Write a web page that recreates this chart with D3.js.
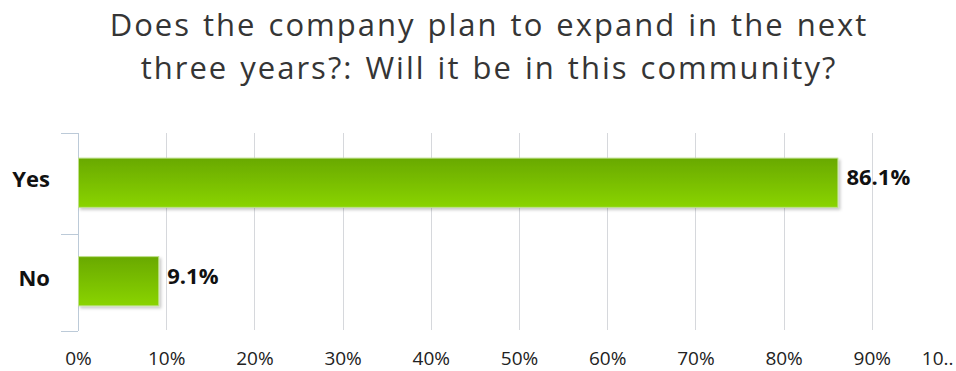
<!DOCTYPE html>
<html><head><meta charset="utf-8">
<script src="https://cdn.jsdelivr.net/npm/d3@7"></script>
<style>body{margin:0;background:#fff;}svg{display:block;}</style>
</head><body>
<svg id="c" width="956" height="371"></svg>
<script>
const titleLines = ["Does the company plan to expand in the next", "three years?: Will it be in this community?"];
const categories = ["Yes", "No"];
const values = [86.1, 9.1];
const tickValues = [0,10,20,30,40,50,60,70,80,90,100];
const tickLabels = ["0%","10%","20%","30%","40%","50%","60%","70%","80%","90%","10.."];

const FONT = "'Open Sans', 'DejaVu Sans', sans-serif";
const svg = d3.select("#c");
const defs = svg.append("defs");
const g = defs.append("linearGradient").attr("id","bar").attr("x1",0).attr("y1",0).attr("x2",0).attr("y2",1);
g.append("stop").attr("offset","0%").attr("stop-color","#69a900");
g.append("stop").attr("offset","100%").attr("stop-color","#8ad402");
const f = defs.append("filter").attr("id","sh").attr("x","-5%").attr("y","-20%").attr("width","115%").attr("height","150%");
f.append("feDropShadow").attr("dx",2).attr("dy",2).attr("stdDeviation",1.5).attr("flood-color","#000").attr("flood-opacity",0.22);

const title = svg.append("text").attr("text-anchor","middle")
  .style("font-family",FONT).style("font-size","31px").style("letter-spacing","2px").style("word-spacing","2px").attr("fill","#353535");
title.selectAll("tspan").data(titleLines).join("tspan")
  .attr("x",489).attr("y",(d,i)=>36+i*42.5).text(d=>d);

const x = d3.scaleLinear().domain([0,100]).range([78,960]);
const y = d3.scaleBand().domain(categories).range([133,330]).paddingInner(0.5).paddingOuter(0.25);

// gridlines
svg.append("g").selectAll("line").data(tickValues.slice(1)).join("line")
  .attr("x1",d=>Math.round(x(d))+0.5).attr("x2",d=>Math.round(x(d))+0.5).attr("y1",133).attr("y2",330)
  .attr("stroke","#d6d8dc").attr("stroke-width",1);

// y axis
const yAxis = svg.append("g");
yAxis.append("line").attr("x1",78.5).attr("x2",78.5).attr("y1",133).attr("y2",331).attr("stroke","#bccad8");
const bounds = [133, 234, 331];
yAxis.selectAll("line.t").data(bounds).join("line").attr("class","t")
  .attr("x1",61).attr("x2",78).attr("y1",d=>d+0.5).attr("y2",d=>d+0.5).attr("stroke","#bccad8");

// bars
svg.append("g").selectAll("rect").data(values).join("rect")
  .attr("x",x(0)+0.5).attr("y",(d,i)=>y(categories[i])+0.5)
  .attr("width",d=>x(d)-x(0)).attr("height",y.bandwidth())
  .attr("fill","url(#bar)").attr("stroke","#bde08a").attr("stroke-width",1)
  .attr("filter","url(#sh)");

// category labels
svg.append("g").selectAll("text").data(categories).join("text")
  .attr("x",50).attr("y",d=>y(d)+y.bandwidth()/2+5)
  .attr("text-anchor","end")
  .style("font-family",FONT).style("font-weight","bold").style("font-size","22px").attr("fill","#111").text(d=>d);

// value labels
svg.append("g").selectAll("text").data(values).join("text")
  .attr("x",d=>x(d)+9).attr("y",(d,i)=>y(categories[i])+y.bandwidth()/2+3)
  .style("font-family",FONT).style("font-weight","bold").style("font-size","22px").attr("fill","#111").text(d=>d.toFixed(1)+"%");

// x axis labels
const xAxis = d3.axisBottom(x).tickValues(tickValues).tickSize(0).tickFormat((d,i)=>tickLabels[i]);
const xa = svg.append("g").call(xAxis);
xa.select(".domain").remove();
xa.selectAll("text").attr("y",365).attr("dy",null)
  .style("font-family",FONT).style("font-size","19px").attr("fill","#222");
xa.selectAll(".tick").filter(d=>d===100).select("text").attr("text-anchor","end").attr("x",-7);
</script>
</body></html>
